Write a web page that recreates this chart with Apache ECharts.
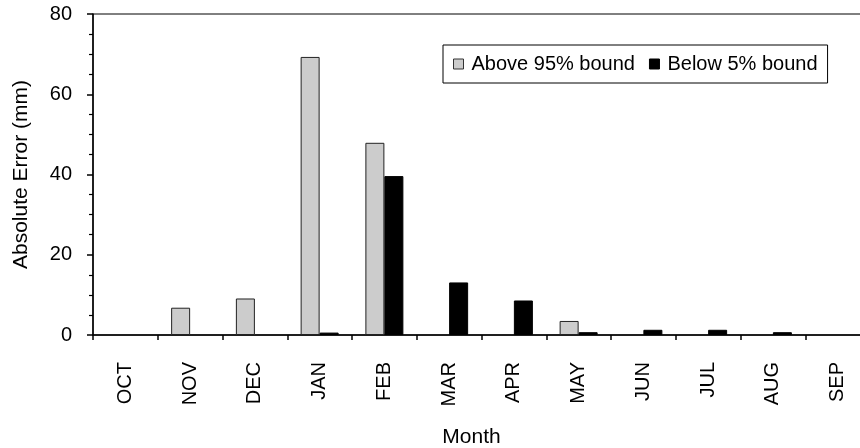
<!DOCTYPE html>
<html>
<head>
<meta charset="utf-8">
<script src="https://cdn.jsdelivr.net/npm/echarts@6/dist/echarts.min.js"></script>
<style>
  html, body { margin: 0; padding: 0; background: #fff; }
  #chart { width: 860px; height: 448px; }
</style>
</head>
<body>
<div id="chart"></div>
<script>
// Monthly absolute error outside the confidence bounds (water year Oct–Sep)
const months = ['OCT', 'NOV', 'DEC', 'JAN', 'FEB', 'MAR', 'APR', 'MAY', 'JUN', 'JUL', 'AUG', 'SEP'];
const above95 = [0, 6.8, 9.1, 69.3, 47.9, 0, 0, 3.5, 0, 0, 0, 0];
const below5 = [0, 0, 0, 0.6, 39.6, 13.1, 8.6, 0.7, 1.3, 1.3, 0.7, 0];
const yTicks = [0, 20, 40, 60, 80];

const font = 'Liberation Sans, Arial, sans-serif';
const chart = echarts.init(document.getElementById('chart'), null, { renderer: 'canvas' });

// zero months carry no bar at all
const asBars = arr => arr.map(v => (v === 0 ? '-' : v));

chart.setOption({
  animation: false,
  backgroundColor: '#fff',
  textStyle: { fontFamily: font, color: '#000' },
  grid: {
    left: 93, top: 14, width: 777, height: 321,
    containLabel: false, outerBoundsMode: 'none',
    show: true, borderColor: '#000', borderWidth: 1, backgroundColor: 'transparent'
  },
  legend: {
    left: 443, top: 45,
    padding: [9, 10, 9, 10],
    borderColor: '#000', borderWidth: 1,
    icon: 'rect',
    itemWidth: 10, itemHeight: 10, itemGap: 14,
    textStyle: { fontFamily: font, fontSize: 20, color: '#000', padding: [0, 0, 0, 3] },
    data: [
      { name: 'Above 95% bound', itemStyle: { color: '#cccccc', borderColor: '#333', borderWidth: 1 } },
      { name: 'Below 5% bound', itemStyle: { color: '#000', borderColor: '#000', borderWidth: 1 } }
    ]
  },
  xAxis: {
    type: 'category',
    data: months,
    name: 'Month',
    nameLocation: 'middle',
    nameGap: 92,
    nameTextStyle: { fontFamily: font, fontSize: 21, color: '#000', padding: [0, 20, 0, 0] },
    axisLine: { lineStyle: { color: '#000', width: 1.5 } },
    axisTick: { show: true, length: 5, lineStyle: { color: '#000', width: 1.5 } },
    axisLabel: { rotate: 90, margin: 27, fontFamily: font, fontSize: 20, color: '#000' },
    splitLine: { show: false }
  },
  yAxis: {
    type: 'value',
    min: 0, max: 80, interval: 20,
    name: 'Absolute Error (mm)',
    nameLocation: 'middle',
    nameGap: 61,
    nameTextStyle: { fontFamily: font, fontSize: 21, color: '#000' },
    axisLine: { show: true, lineStyle: { color: '#000', width: 1.5 } },
    axisTick: { show: true, length: 6, lineStyle: { color: '#000', width: 1.5 } },
    minorTick: { show: true, splitNumber: 4, length: 4, lineStyle: { color: '#000', width: 1.2 } },
    axisLabel: {
      margin: 21, fontFamily: font, fontSize: 20, color: '#000',
      formatter: v => (yTicks.includes(v) ? String(v) : '')
    },
    splitLine: { show: false }
  },
  series: [
    {
      name: 'Above 95% bound',
      type: 'bar',
      data: asBars(above95),
      barWidth: 19,
      barGap: '0%',
      itemStyle: { color: '#cccccc', borderColor: '#222', borderWidth: 1 }
    },
    {
      name: 'Below 5% bound',
      type: 'bar',
      data: asBars(below5),
      barWidth: 19,
      itemStyle: { color: '#000', borderColor: '#000', borderWidth: 1 }
    }
  ]
});
</script>
</body>
</html>
